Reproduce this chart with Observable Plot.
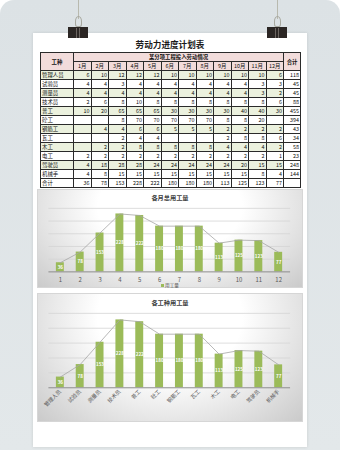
<!DOCTYPE html>
<html><head><meta charset="utf-8">
<script src="https://cdn.jsdelivr.net/npm/d3@7"></script>
<script src="https://cdn.jsdelivr.net/npm/@observablehq/plot@0.6"></script>
<style>
html,body{margin:0;padding:0;width:340px;height:450px;overflow:hidden;background:#fff;font-family:"Noto Sans CJK SC","Noto Sans",sans-serif;}
#bg{position:absolute;left:0;top:0;width:340px;height:450px;border-radius:14px 14px 0 0;background:linear-gradient(180deg,#dce2e5,#e3e8ea);}
.string{position:absolute;top:0;width:1.6px;height:19px;background:#b8b9ae;}
.loop{position:absolute;top:16px;width:5px;height:9px;border:1.3px solid #a7a89f;border-radius:50% 50% 30% 30%;}
.clip{position:absolute;top:27px;width:20px;height:11px;background:#2b2624;z-index:3;}
.clip i{position:absolute;top:1px;width:1px;height:10px;background:#6b6460;}
.paper{position:absolute;left:33px;top:33px;width:274px;height:414px;background:#fff;box-shadow:0 0 3px rgba(0,0,0,0.12);}
#title{position:absolute;left:33px;top:38px;width:274px;text-align:center;font-size:8.6px;font-weight:bold;color:#1a1a1a;line-height:12px;}
#tbl{position:absolute;left:40px;top:52px;width:260px;border-collapse:collapse;table-layout:fixed;font-size:5.4px;color:#111;}
#tbl td{border:0.8px solid #2a2a2a;padding:0 1px;height:8px;line-height:8px;white-space:nowrap;overflow:hidden;}
#tbl .h{background:#f2dcdb;text-align:center;font-weight:bold;}
#tbl .n{text-align:right;}
#tbl tr.g td{background:#ebf1de;}
#tbl tr td.tot{background:#fff;}
.panel{position:absolute;left:37px;width:266px;background:radial-gradient(ellipse 72% 125% at 50% 18%,#ffffff 38%,#c6c6c6 100%);border:0.8px solid #d6d6d6;box-sizing:border-box;}
.ptitle{position:absolute;left:0;width:100%;text-align:center;font-size:6.2px;font-weight:bold;color:#404040;line-height:8px;}
.legend{position:absolute;left:0;width:100%;text-align:center;font-size:4.6px;color:#595959;line-height:6px;}
.legend b{display:inline-block;width:3px;height:3px;background:#9bbb59;margin-right:1px;vertical-align:middle;}
.panel svg{position:absolute;left:0;top:0;}
</style>
</head><body>
<div id="bg"></div>
<div class="string" style="left:77.5px"></div>
<div class="string" style="left:276.5px"></div>
<div class="loop" style="left:74.5px"></div>
<div class="loop" style="left:273.5px"></div>
<div class="paper"></div>
<div class="clip" style="left:68px"><i style="left:8px"></i><i style="left:11px"></i></div>
<div class="clip" style="left:267px"><i style="left:8px"></i><i style="left:11px"></i></div>
<div id="title">劳动力进度计划表</div>
<table id="tbl"></table>
<div class="panel" id="p1" style="top:189px;height:99px;">
  <div class="ptitle" style="top:4px">各月总用工量</div>
  <div class="legend" style="top:92px"><b></b>用工量</div>
</div>
<div class="panel" id="p2" style="top:293px;height:129px;">
  <div class="ptitle" style="top:5px">各工种用工量</div>
</div>
<script>
// ---- data ----
const tableTitle = "劳动力进度计划表";
const groupHeader = "某分项工程投入劳动情况";
const months = ["1月","2月","3月","4月","5月","6月","7月","8月","9月","10月","11月","12月"];
const monthTicks = ["1","2","3","4","5","6","7","8","9","10","11","12"];
const trades = ["管理人员","试验员","测量员","技术员","普工","砼工","钢筋工","瓦工","木工","电工","驾驶员","机械手"];
const tradeMonthly = [
  [6,10,12,12,12,10,10,10,10,10,10,6],
  [4,4,3,4,4,4,4,4,4,4,3,3],
  [4,4,4,4,4,4,4,4,4,4,3,2],
  [2,6,8,10,8,8,8,8,8,8,8,6],
  [10,20,65,65,65,30,30,30,30,40,40,30],
  [null,null,8,70,70,70,70,70,8,8,20,null],
  [null,4,4,6,6,5,5,5,2,2,2,2],
  [null,null,2,4,4,null,null,null,2,8,8,6],
  [null,2,2,8,8,8,8,8,4,4,4,2],
  [2,2,2,2,2,2,2,2,2,2,2,1],
  [4,18,28,28,24,24,24,24,24,20,15,15],
  [4,8,15,15,15,15,15,15,15,15,8,4]
];
const tradeTotals = [118,45,45,88,455,394,43,34,58,23,248,144];
const monthTotals = [36,78,153,228,222,180,180,180,113,125,123,77];
const tradeChartValues = [36,78,153,228,222,180,180,180,113,125,123,77];
const gridValues = [50,100,150,200,250];

// ---- table ----
const tbl = document.getElementById("tbl");
let html = '<colgroup><col style="width:33px">' + months.map(()=>'<col style="width:17.5px">').join('') + '<col style="width:17px"></colgroup>';
html += '<tr><td class="h" rowspan="2">工种</td><td class="h" colspan="12" style="height:8px">' + groupHeader + '</td><td class="h" rowspan="2">合计</td></tr>';
html += '<tr>' + months.map(m => '<td class="h" style="font-weight:normal">' + m + '</td>').join('') + '</tr>';
trades.forEach((t, i) => {
  html += '<tr class="' + (i % 2 === 0 ? 'g' : '') + '"><td>' + t + '</td>' +
    tradeMonthly[i].map(v => '<td class="n">' + (v == null ? '' : v) + '</td>').join('') +
    '<td class="n tot">' + tradeTotals[i] + '</td></tr>';
});
html += '<tr><td>合计</td>' + monthTotals.map(v => '<td class="n">' + v + '</td>').join('') + '<td class="tot"></td></tr>';
tbl.innerHTML = html;

// ---- charts ----
const green = "#9bbb59";
const font = '"Noto Sans CJK SC","Noto Sans",sans-serif';
function chart(labels, values, opts) {
  const data = labels.map((k, i) => ({k, v: values[i]}));
  return Plot.plot({
    width: 266, height: opts.height,
    marginLeft: 10.5, marginRight: 12, marginTop: opts.top, marginBottom: opts.bottom,
    style: {background: "transparent", fontFamily: font, overflow: "visible"},
    x: {domain: labels, paddingInner: 0.58, paddingOuter: 0.29, label: null},
    y: {domain: [0, 250], axis: null},
    marks: [
      Plot.ruleY(gridValues, {stroke: "#d4d4d4", strokeWidth: 0.8}),
      Plot.barY(data, {x: "k", y: "v", fill: green}),
      Plot.ruleY([0], {stroke: "#8c8c8c", strokeWidth: 1}),
      Plot.lineY(data, {x: "k", y: "v", stroke: "#a6a6a6", strokeWidth: 0.8}),
      Plot.text(data, {x: "k", y: d => d.v / 2, text: d => String(d.v), fill: "#ffffff", fontSize: 4.6, fontWeight: "bold"}),
      Plot.axisX(opts.axis)
    ]
  });
}
const c1 = chart(monthTicks, monthTotals, {height: 99, top: 18, bottom: 17,
  axis: {tickSize: 0, tickPadding: 6, fontSize: 6, color: "#595959", label: null}});
document.getElementById("p1").prepend(c1);
const c2 = chart(trades, tradeChartValues, {height: 129, top: 19, bottom: 35,
  axis: {tickSize: 0, tickPadding: 3, fontSize: 5.4, color: "#595959", tickRotate: -45, label: null}});
document.getElementById("p2").prepend(c2);
</script>
</body></html>
